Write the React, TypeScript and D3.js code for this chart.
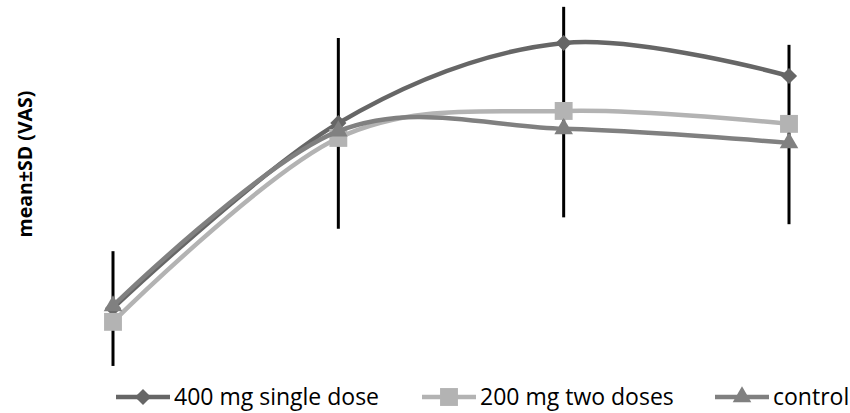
import * as d3 from 'd3';
import React from 'react';

// time points (not labelled in the original chart)
const timePoints = ['T0', 'T1', 'T2', 'T3'];

const seriesNames = ['400 mg single dose', '200 mg two doses', 'control'];
const dose400 = [1.89, 6.76, 8.87, 8.0];
const dose200 = [1.53, 6.37, 7.08, 6.74];
const control = [1.95, 6.55, 6.61, 6.24];

// error bars (mean ± SD) drawn as plain black whiskers
const barMean = [1.88, 6.49, 7.05, 6.46];
const barSD = [1.51, 2.51, 2.77, 2.36];

const W = 850;
const H = 413;

const colors = ['#666666', '#b3b3b3', '#808080'];
const symbols = ['diamond', 'square', 'triangle'];

function markerPath(kind: string) {
  if (kind === 'square') return d3.symbol(d3.symbolSquare, 320)()!;
  if (kind === 'triangle') return d3.symbol(d3.symbolTriangle, 150)()!;
  return d3.symbol(d3.symbolSquare, 130)()!;
}

const Marker: React.FC<{ kind: string; x: number; y: number; color: string }> = ({ kind, x, y, color }) => (
  <path
    d={markerPath(kind)}
    fill={color}
    transform={`translate(${x},${y})${kind === 'diamond' ? ' rotate(45)' : ''}`}
  />
);

export default function App() {
  const x = d3.scalePoint<string>().domain(timePoints).range([113, 789]);
  const y = d3.scaleLinear().domain([0, 10]).range([380, 0]);

  const line = d3
    .line<number>()
    .x((_, i) => x(timePoints[i])!)
    .y(d => y(d))
    .curve(d3.curveCardinal.tension(0));

  const allSeries = [dose400, dose200, control];
  const legendX = [116, 422, 715];

  return (
    <svg width={W} height={H} style={{ position: 'absolute', left: 0, top: 0 }}>
      <rect width={W} height={H} fill="#ffffff" />

      {/* error bars */}
      {timePoints.map((t, i) => (
        <line
          key={t}
          x1={x(t)}
          x2={x(t)}
          y1={y(barMean[i] - barSD[i])}
          y2={y(barMean[i] + barSD[i])}
          stroke="#000"
          strokeWidth={3}
        />
      ))}

      {allSeries.map((vals, s) => (
        <g key={seriesNames[s]}>
          <path d={line(vals)!} fill="none" stroke={colors[s]} strokeWidth={4.5} />
          {vals.map((v, i) => (
            <Marker key={i} kind={symbols[s]} x={x(timePoints[i])!} y={y(v)} color={colors[s]} />
          ))}
        </g>
      ))}

      <text
        transform="translate(32,164) rotate(-90)"
        textAnchor="middle"
        fontFamily="Open Sans"
        fontWeight="bold"
        fontSize={19.5}
        fill="#000"
      >
        mean±SD (VAS)
      </text>

      {/* legend */}
      {seriesNames.map((name, s) => (
        <g key={name} transform={`translate(${legendX[s]},397)`}>
          <line x1={0} x2={54} y1={0} y2={0} stroke={colors[s]} strokeWidth={4.5} />
          <Marker kind={symbols[s]} x={27} y={0} color={colors[s]} />
          <text x={58} y={8} fontFamily="Open Sans" fontSize={23} fill="#000">
            {name}
          </text>
        </g>
      ))}
    </svg>
  );
}
